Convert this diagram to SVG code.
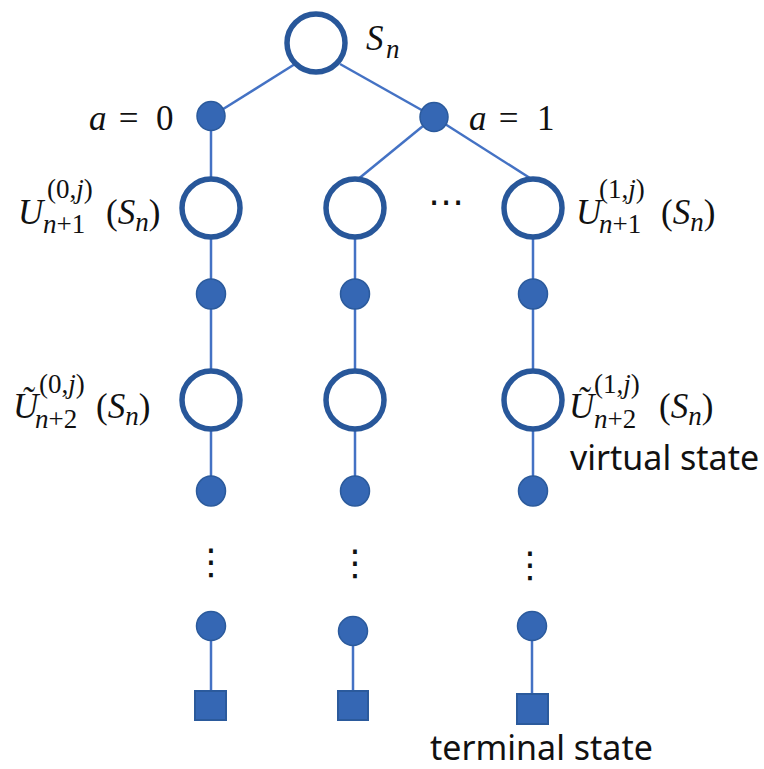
<svg xmlns="http://www.w3.org/2000/svg" width="764" height="769" viewBox="0 0 764 769">
<style>
.big{fill:#fff;stroke:#28579A;stroke-width:5.5}
.dot{fill:#3567B4;stroke:#2B5A9C;stroke-width:1.5}
.sq{fill:#3567B4;stroke:#2B5A9C;stroke-width:2}
.ln{stroke:#4472C4;stroke-width:2.5;fill:none}
.m{font-family:"Liberation Serif",serif;font-size:35px;fill:#111}
.s{font-family:"Liberation Serif",serif;font-size:27px;fill:#111}
.i{font-style:italic}
.t{font-family:"Noto Sans","DejaVu Sans",sans-serif;font-size:34px;fill:#111}
.v{font-family:"DejaVu Sans",sans-serif;font-size:36px;fill:#111}
</style>
<g id="connectors">
<line class="ln" x1="295" y1="64" x2="212" y2="116"/>
<line class="ln" x1="340" y1="64" x2="434" y2="117"/>
<line class="ln" x1="211" y1="116" x2="211" y2="208"/>
<line class="ln" x1="434" y1="117" x2="357" y2="180"/>
<line class="ln" x1="434" y1="117" x2="533" y2="180"/>
<line class="ln" x1="211" y1="208" x2="211" y2="490"/>
<line class="ln" x1="355" y1="208" x2="355" y2="490"/>
<line class="ln" x1="533" y1="208" x2="533" y2="490"/>
<line class="ln" x1="211" y1="626" x2="211" y2="692"/>
<line class="ln" x1="353" y1="631" x2="353" y2="692"/>
<line class="ln" x1="532" y1="626" x2="532" y2="694"/>
</g>
<g id="root"><circle class="big" cx="316" cy="43" r="29"/>
<text class="m i" x="366" y="50">S</text><text class="s i" x="386" y="58">n</text></g>
<g id="a0"><ellipse class="dot" cx="211" cy="116" rx="14" ry="14.5"/>
<text class="m i" x="89" y="130">a</text><text class="m" x="128.5" y="130" text-anchor="middle">=</text><text class="m" x="156" y="130">0</text></g>
<g id="a1"><ellipse class="dot" cx="434" cy="117" rx="14" ry="14.5"/>
<text class="m i" x="469" y="130">a</text><text class="m" x="508.5" y="130" text-anchor="middle">=</text><text class="m" x="537" y="130">1</text></g>
<g id="u0"><circle class="big" cx="211" cy="208" r="29"/>
<text class="m i" x="18" y="224">U</text>
<text class="s" x="47" y="198">(0,<tspan class="i">j</tspan>)</text>
<text class="s" x="43" y="233"><tspan class="i">n</tspan>+1</text>
<text class="m" x="106" y="224">(<tspan class="i">S</tspan><tspan class="s i" dy="7">n</tspan><tspan dy="-7">)</tspan></text></g>
<g id="um"><circle class="big" cx="355" cy="208" r="29"/></g>
<g id="ellipsis"><text class="v" x="446" y="214" text-anchor="middle">⋯</text></g>
<g id="u1"><circle class="big" cx="533" cy="208" r="29"/>
<text class="m i" x="576" y="224">U</text>
<text class="s" x="599" y="198">(1,<tspan class="i">j</tspan>)</text>
<text class="s" x="599" y="233"><tspan class="i">n</tspan>+1</text>
<text class="m" x="661" y="224">(<tspan class="i">S</tspan><tspan class="s i" dy="7">n</tspan><tspan dy="-7">)</tspan></text></g>
<g id="d0a"><ellipse class="dot" cx="211" cy="294" rx="14.5" ry="15"/></g>
<g id="dma"><ellipse class="dot" cx="355" cy="294" rx="14.5" ry="15"/></g>
<g id="d1a"><ellipse class="dot" cx="533" cy="294" rx="14.5" ry="15"/></g>
<g id="v0"><circle class="big" cx="211" cy="400" r="29"/>
<text class="m i" x="13" y="418">Ũ</text>
<text class="s" x="39" y="393">(0,<tspan class="i">j</tspan>)</text>
<text class="s" x="35" y="428"><tspan class="i">n</tspan>+2</text>
<text class="m" x="96" y="418">(<tspan class="i">S</tspan><tspan class="s i" dy="7">n</tspan><tspan dy="-7">)</tspan></text></g>
<g id="vm"><circle class="big" cx="355" cy="400" r="29"/></g>
<g id="v1"><circle class="big" cx="533" cy="400" r="29"/>
<text class="m i" x="569" y="418">Ũ</text>
<text class="s" x="594" y="393">(1,<tspan class="i">j</tspan>)</text>
<text class="s" x="594" y="428"><tspan class="i">n</tspan>+2</text>
<text class="m" x="659" y="418">(<tspan class="i">S</tspan><tspan class="s i" dy="7">n</tspan><tspan dy="-7">)</tspan></text>
<text class="t" x="570" y="470">virtual state</text></g>
<g id="d0b"><ellipse class="dot" cx="211" cy="491" rx="14.5" ry="15"/></g>
<g id="dmb"><ellipse class="dot" cx="355" cy="491" rx="14.5" ry="15"/></g>
<g id="d1b"><ellipse class="dot" cx="533" cy="491" rx="14.5" ry="15"/></g>
<g id="vdots">
<text class="v" x="211" y="574" text-anchor="middle">⋮</text>
<text class="v" x="355" y="575" text-anchor="middle">⋮</text>
<text class="v" x="530" y="577" text-anchor="middle">⋮</text>
</g>
<g id="d0c"><ellipse class="dot" cx="211" cy="626" rx="14.5" ry="14.5"/></g>
<g id="dmc"><ellipse class="dot" cx="353" cy="631" rx="14.5" ry="14.5"/></g>
<g id="d1c"><ellipse class="dot" cx="532" cy="626" rx="14.5" ry="14.5"/></g>
<g id="t0"><rect class="sq" x="195" y="691" width="31" height="29"/></g>
<g id="tm"><rect class="sq" x="338" y="691" width="30" height="29"/></g>
<g id="t1"><rect class="sq" x="517" y="694" width="31" height="30"/>
<text class="t" x="430" y="760">terminal state</text></g>
</svg>
